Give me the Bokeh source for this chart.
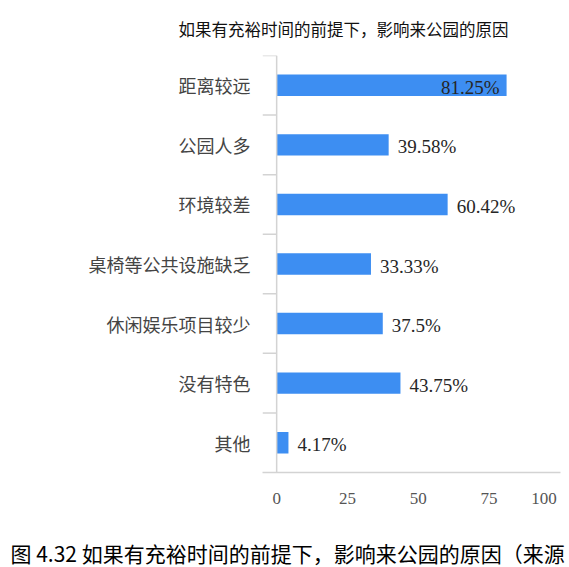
# plot.py
#
# Horizontal bar chart: reasons that affect coming to the park
# (if there is plenty of time)

# ========
# SETTINGS
# ========

# Libraries
from bokeh import plotting
from bokeh import models
from bokeh.core.properties import value
from bokeh.embed import file_html
from bokeh.resources import INLINE

# ====
# DATA
# ====

# Categories, top to bottom
categories = ['距离较远', '公园人多', '环境较差', '桌椅等公共设施缺乏', '休闲娱乐项目较少', '没有特色', '其他']

# Share of answers (%)
shares = [81.25, 39.58, 60.42, 33.33, 37.5, 43.75, 4.17]

# Value labels as printed
share_labels = ['81.25%', '39.58%', '60.42%', '33.33%', '37.5%', '43.75%', '4.17%']

# Axis ticks
xticks = [0, 25, 50, 75, 100]

# Texts
title_text = '如果有充裕时间的前提下，影响来公园的原因'
caption_text = '图 4.32 如果有充裕时间的前提下，影响来公园的原因（来源'

# Styles
barcolor = '#3d8ef2'
linecolor = '#d3d3d3'
cjkfont = 'Noto Sans CJK SC'
serif = 'Liberation Serif'

# ====
# MAIN
# ====

# Row positions, first category on top
ncat = len(categories)
ypos = [ncat - 1 - i for i in range(ncat)]

# Split labels: inside the bar when the bar is long
inside = [i for i in range(ncat) if shares[i] > 75]
outside = [i for i in range(ncat) if shares[i] <= 75]

src_in = models.ColumnDataSource(data=dict(
	x=[shares[i] for i in inside],
	y=[ypos[i] for i in inside],
	t=[share_labels[i] for i in inside]))
src_out = models.ColumnDataSource(data=dict(
	x=[shares[i] for i in outside],
	y=[ypos[i] for i in outside],
	t=[share_labels[i] for i in outside]))
src_bar = models.ColumnDataSource(data=dict(y=ypos, right=shares))

# Create figure
p = plotting.figure(
	width=569, height=567,
	x_range=models.Range1d(-5, 100.3),
	y_range=models.Range1d(-0.5, ncat - 0.5),
	output_backend='svg',
	toolbar_location=None,
	min_border_left=262, min_border_right=9,
	min_border_top=55, min_border_bottom=95,
	)

# Bars
p.hbar(y='y', right='right', left=0, height=0.36, source=src_bar,
	fill_color=barcolor, line_color=None)

# Value labels
p.text(x='x', y='y', text='t', source=src_in, x_offset=-7, y_offset=2,
	text_align='right', text_baseline='middle',
	text_font=value(serif), text_font_size='19px', text_color='#262626')
p.text(x='x', y='y', text='t', source=src_out, x_offset=9, y_offset=2,
	text_align='left', text_baseline='middle',
	text_font=value(serif), text_font_size='19px', text_color='#262626')

# Vertical axis line at zero
p.add_layout(models.Span(location=0, dimension='height', line_color=linecolor, line_width=1.5))

# Category boundary ticks
bounds = [k + 0.5 for k in range(ncat)]
p.segment(x0=[-5] * len(bounds), x1=[0] * len(bounds), y0=bounds, y1=bounds,
	line_color=linecolor, line_width=1.5)

# Y axis: category names
p.yaxis.ticker = models.FixedTicker(ticks=ypos)
p.yaxis.major_label_overrides = {ypos[i]: categories[i] for i in range(ncat)}
p.yaxis.axis_line_color = None
p.yaxis.major_tick_line_color = None
p.yaxis.minor_tick_line_color = None
p.yaxis.major_tick_out = 0
p.yaxis.major_label_standoff = 12
p.yaxis.major_label_text_font = cjkfont
p.yaxis.major_label_text_font_size = '18px'
p.yaxis.major_label_text_color = '#444444'

# X axis (last label padded so it sits inside the page)
p.xaxis.ticker = models.FixedTicker(ticks=xticks)
p.xaxis.major_label_overrides = {100: '100' + '\u00a0' * 3}
p.xaxis.axis_line_color = linecolor
p.xaxis.axis_line_width = 1.5
p.xaxis.major_tick_line_color = None
p.xaxis.minor_tick_line_color = None
p.xaxis.major_tick_out = 0
p.xaxis.major_label_standoff = 16
p.xaxis.major_label_text_font = serif
p.xaxis.major_label_text_font_size = '17px'
p.xaxis.major_label_text_color = '#555555'

# Tidy
p.grid.grid_line_color = None
p.outline_line_color = None

# Chart title
p.title = models.Title(text=title_text, align='left', offset=-84, standoff=29,
	text_font=cjkfont, text_font_size='16.5px', text_font_style='normal', text_color='#111111')

# Spacer between the axis and the caption
p.add_layout(models.Title(text=' ', text_font_size='1px', standoff=22), 'below')

# Figure caption
p.add_layout(models.Title(text=caption_text, align='left', offset=-252, standoff=0,
	text_font=cjkfont, text_font_size='21px', text_font_style='normal', text_color='#000000'), 'below')

# Save
open('out.html', 'w').write(file_html(p, INLINE))
